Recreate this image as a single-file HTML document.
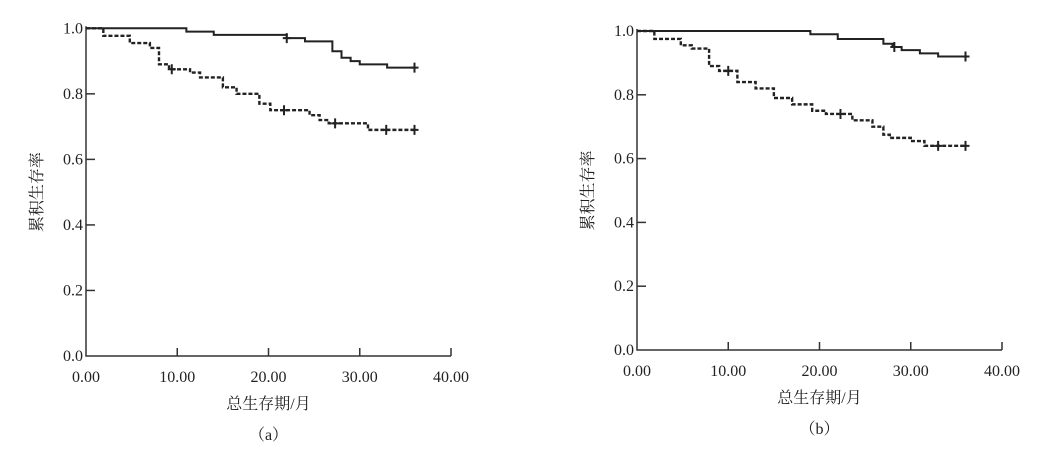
<!DOCTYPE html>
<html><head><meta charset="utf-8"><style>
body{margin:0;background:#fff;}
svg{display:block;font-family:"Liberation Serif","Noto Serif CJK SC",serif;}
</style></head><body>
<svg id="chart" width="1045" height="449" viewBox="0 0 1045 449"></svg>
<script>
const xTicks=[0,10,20,30,40];
const xTickLabels=["0.00","10.00","20.00","30.00","40.00"];
const yTicks=[0,0.2,0.4,0.6,0.8,1.0];
const yTickLabels=["0.0","0.2","0.4","0.6","0.8","1.0"];
// panel a
const aSolidT=[0,11,14,22,24,27,28,29,30,33,36];
const aSolidS=[1.0,0.99,0.98,0.97,0.96,0.93,0.91,0.90,0.89,0.88,0.88];
const aSolidCens=[22,36];
const aDashT=[0,1.9,4.8,7.0,8.0,9.1,11.4,12.5,15,16.5,19,20.2,24.5,25.6,26.6,30.9,36];
const aDashS=[1.0,0.977,0.955,0.94,0.89,0.875,0.865,0.85,0.82,0.80,0.77,0.75,0.735,0.72,0.71,0.69,0.69];
const aDashCens=[9.4,21.7,27.3,32.9,36];
// panel b
const bSolidT=[0,19,22,27,28,29,31,33,36];
const bSolidS=[1.0,0.99,0.975,0.96,0.95,0.94,0.93,0.92,0.92];
const bSolidCens=[28.2,36];
const bDashT=[0,1.9,4.8,6,7.9,9,11,13,15,17,19.2,20.7,23.6,25.8,27,27.7,30,31.5,36];
const bDashS=[1.0,0.975,0.955,0.945,0.89,0.875,0.84,0.82,0.79,0.77,0.75,0.74,0.72,0.70,0.675,0.665,0.655,0.64,0.64];
const bDashCens=[10,22.3,33,36];

const NS="http://www.w3.org/2000/svg";
const svg=document.getElementById('chart');
function mk(tag,attrs,parent){const e=document.createElementNS(NS,tag);for(const k in attrs)e.setAttribute(k,attrs[k]);(parent||svg).appendChild(e);return e;}
const NUMFONT='"Liberation Serif", serif';
const CJKFONT='"Liberation Serif","Noto Serif CJK SC","Noto Sans CJK SC",serif';

function panel(name,x0,x1,yTop,yBot,sT,sS,sC,dT,dS,dC,cap){
  const g=mk('g',{});
  
  
  const X=t=>x0+(x1-x0)*t/40;
  const Y=v=>yBot-(yBot-yTop)*v;
  const ax=mk('path',{d:`M${x0},${yTop-2}V${yBot}H${x1}`,fill:'none',stroke:'#333','stroke-width':1.5},g);
  
  
  xTicks.forEach((t,i)=>{
    if(i>0){const tk=mk('line',{x1:X(t),x2:X(t),y1:yBot,y2:yBot-8,stroke:'#333','stroke-width':1.5},g);
    
    }
    const tx=mk('text',{x:X(t),y:yBot+26,'text-anchor':'middle','font-size':16,'font-family':NUMFONT,fill:'#222'},g);
    tx.textContent=xTickLabels[i];
    
    
  });
  yTicks.forEach((v,i)=>{
    if(i>0){const tk=mk('line',{x1:x0,x2:x0+9,y1:Y(v),y2:Y(v),stroke:'#333','stroke-width':1.5},g);
    
    }
    const tx=mk('text',{x:x0-3,y:Y(v)+5,'text-anchor':'end','font-size':16,'font-family':NUMFONT,fill:'#222'},g);
    tx.textContent=yTickLabels[i];
    
    
  });
  const yt=mk('text',{x:0,y:0,transform:`translate(${x0-44},${(yTop+yBot)/2}) rotate(-90)`,'text-anchor':'middle','font-size':16,'font-family':CJKFONT,fill:'#222'},g);
  yt.textContent='累积生存率';
  
  
  const xt=mk('text',{x:(x0+x1)/2,y:yBot+53,'text-anchor':'middle','font-size':16,'font-family':CJKFONT,fill:'#222'},g);
  xt.textContent='总生存期/月';
  
  
  const cp=mk('text',{x:(x0+x1)/2,y:yBot+84,'text-anchor':'middle','font-size':16,'font-family':CJKFONT,fill:'#222'},g);
  cp.textContent=cap;
  
  
  function curve(T,S,C,dash,nm){
    let d=`M${X(T[0])},${Y(S[0])}`;
    for(let i=1;i<T.length;i++){d+=`H${X(T[i])}V${Y(S[i])}`;}
    const p=mk('path',{d:d,fill:'none',stroke:'#222','stroke-width':dash?2.4:2,'stroke-dasharray':dash?'4,2':'none'},g);
    
    
    C.forEach(t=>{
      let v=S[0];for(let i=0;i<T.length;i++){if(T[i]<=t)v=S[i];}
      const c=mk('path',{d:`M${X(t)-4},${Y(v)}H${X(t)+4}M${X(t)},${Y(v)-5}V${Y(v)+5}`,stroke:'#222','stroke-width':2},g);
      
      
    });
  }
  curve(sT,sS,sC,false,'solid-survival-curve');
  curve(dT,dS,dC,true,'dashed-survival-curve');
}
panel('a',86,451,28.3,356,aSolidT,aSolidS,aSolidCens,aDashT,aDashS,aDashCens,'（a）');
panel('b',637,1002,31,350,bSolidT,bSolidS,bSolidCens,bDashT,bDashS,bDashCens,'（b）');
</script>
</body></html>
